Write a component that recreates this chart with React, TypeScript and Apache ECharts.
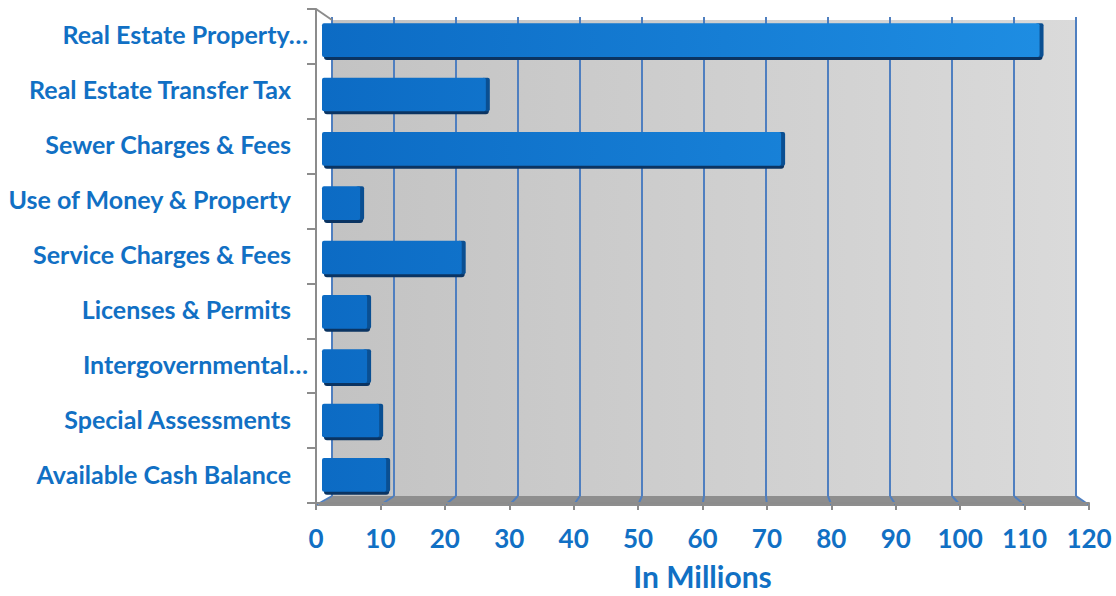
import React, { useEffect, useRef } from "react";
import * as echarts from "echarts";

const categories = [
  "Real Estate Property…",
  "Real Estate Transfer Tax",
  "Sewer Charges & Fees",
  "Use of Money & Property",
  "Service Charges & Fees",
  "Licenses & Permits",
  "Intergovernmental…",
  "Special Assessments",
  "Available Cash Balance",
];
const values = [113, 25.8, 72.3, 6, 22, 7.1, 7.1, 9, 10.1];
const xMin = 0;
const xMax = 120;
const xStep = 10;
const axisTitle = "In Millions";

const BLUE = "#1170c4";
const FONT = "Lato";

export default function App() {
  const ref = useRef<HTMLDivElement>(null);
  useEffect(() => {
    document.body.style.margin = "0";
    const chart = echarts.init(ref.current!, null, { renderer: "svg" });
    const labelBase = { fontFamily: FONT, fontWeight: "bold", fontSize: 25, color: BLUE };
    const option: any = {
      animation: false,
      backgroundColor: "#ffffff",
      grid: [
        {
          left: 332, right: 40, top: 20, bottom: 100, show: true, borderWidth: 0,
          backgroundColor: new echarts.graphic.LinearGradient(0, 0, 1, 0, [
            { offset: 0, color: "#c3c3c3" },
            { offset: 1, color: "#dadada" },
          ]),
        },
        { left: 316, right: 27, top: 9, bottom: 90 },
        { left: 322, right: 32, top: 13, bottom: 94 },
      ],
      xAxis: [
        {
          gridIndex: 0, type: "value", min: xMin, max: xMax, interval: xStep,
          axisLine: { show: false }, axisTick: { show: false }, axisLabel: { show: false },
          splitLine: { show: true, lineStyle: { color: "#4f7fc0", width: 2 } },
        },
        {
          gridIndex: 1, type: "value", min: xMin, max: xMax, interval: xStep,
          axisLine: { show: true, lineStyle: { color: "#8c8c8c", width: 2 } },
          axisTick: { show: true, length: 7, lineStyle: { color: "#8c8c8c", width: 2 } },
          axisLabel: { fontFamily: FONT, fontWeight: "bold", fontSize: 26, color: BLUE, margin: 22 },
          splitLine: { show: false },
          name: axisTitle, nameLocation: "middle", nameGap: 58,
          nameTextStyle: { fontFamily: FONT, fontWeight: "bold", fontSize: 30, color: BLUE },
        },
        {
          gridIndex: 2, type: "value", min: xMin, max: xMax, interval: xStep, show: false,
          splitLine: { show: false },
        },
      ],
      yAxis: [
        { gridIndex: 0, type: "category", data: categories, inverse: true, show: false },
        {
          gridIndex: 1, type: "category", data: categories, inverse: true,
          axisLine: { show: true, lineStyle: { color: "#8c8c8c", width: 2 } },
          axisTick: { show: true, length: 9, lineStyle: { color: "#8c8c8c", width: 2 } },
          axisLabel: {
            margin: 8,
            formatter: (v: string) => (v.endsWith("…") ? `{t|${v}}` : `{n|${v}}`),
            rich: {
              t: { ...labelBase, padding: [0, 0, 4, 0] },
              n: { ...labelBase, padding: [0, 17, 4, 0] },
            },
          },
        },
        { gridIndex: 2, type: "category", data: categories, inverse: true, show: false },
      ],
      series: [
        {
          type: "custom",
          xAxisIndex: 2,
          yAxisIndex: 2,
          encode: { x: 0, y: 1 },
          data: values.map((v, i) => [v, i]),
          renderItem: (params: any, api: any) => {
            const v = api.value(0);
            const c = api.value(1);
            const start = api.coord([0, c]);
            const end = api.coord([v, c]);
            const full = api.coord([xMax, c]);
            const band = api.size([0, 1])[1];
            const h = band * 0.62;
            const x0 = start[0];
            const x1 = end[0];
            const top = end[1] - h / 2;
            const w = x1 - x0;
            const grad = new echarts.graphic.LinearGradient(x0, 0, full[0], 0, [
              { offset: 0, color: "#0c6bc4" },
              { offset: 1, color: "#1f8fe4" },
            ], true);
            return {
              type: "group",
              children: [
                { type: "rect", shape: { x: x0 + 2, y: top + 2, width: w + 1, height: h + 1, r: 3 }, style: { fill: "#0b3462" } },
                { type: "rect", shape: { x: x1 - 4, y: top, width: 8, height: h, r: 2 }, style: { fill: "#0a4f92" } },
                { type: "rect", shape: { x: x0, y: top, width: w, height: h, r: 2 }, style: { fill: grad } },
              ],
            };
          },
        },
      ],
    };
    chart.setOption(option);

    const backY = 496;
    const frontY = 506;
    const ticks: number[] = [];
    for (let t = xMin; t <= xMax; t += xStep) ticks.push(t);
    const bx = (t: number) => chart.convertToPixel({ xAxisIndex: 0 }, t) as number;
    const fx = (t: number) => chart.convertToPixel({ xAxisIndex: 1 }, t) as number;
    const elements: any[] = [
      {
        type: "polygon", z: -1,
        shape: { points: [[bx(xMin), backY], [bx(xMax), backY], [fx(xMax), frontY], [fx(xMin), frontY]] },
        style: { fill: "#8e8e8e" },
      },
      {
        type: "line", z: 5,
        shape: { x1: fx(xMin), y1: 9, x2: bx(xMin), y2: 20 },
        style: { stroke: "#8c8c8c", lineWidth: 2 },
      },
    ];
    ticks.forEach((t) => {
      elements.push({
        type: "line", z: 0,
        shape: { x1: bx(t), y1: backY, x2: fx(t), y2: frontY - 1 },
        style: { stroke: "#4f7fc0", lineWidth: 2 },
      });
      elements.push({
        type: "line", z: 0,
        shape: { x1: bx(t), y1: 17, x2: bx(t), y2: 20 },
        style: { stroke: "#4f7fc0", lineWidth: 2 },
      });
    });
    chart.setOption({ graphic: { elements } });

    return () => chart.dispose();
  }, []);
  return <div ref={ref} style={{ width: 1116, height: 596 }} />;
}
